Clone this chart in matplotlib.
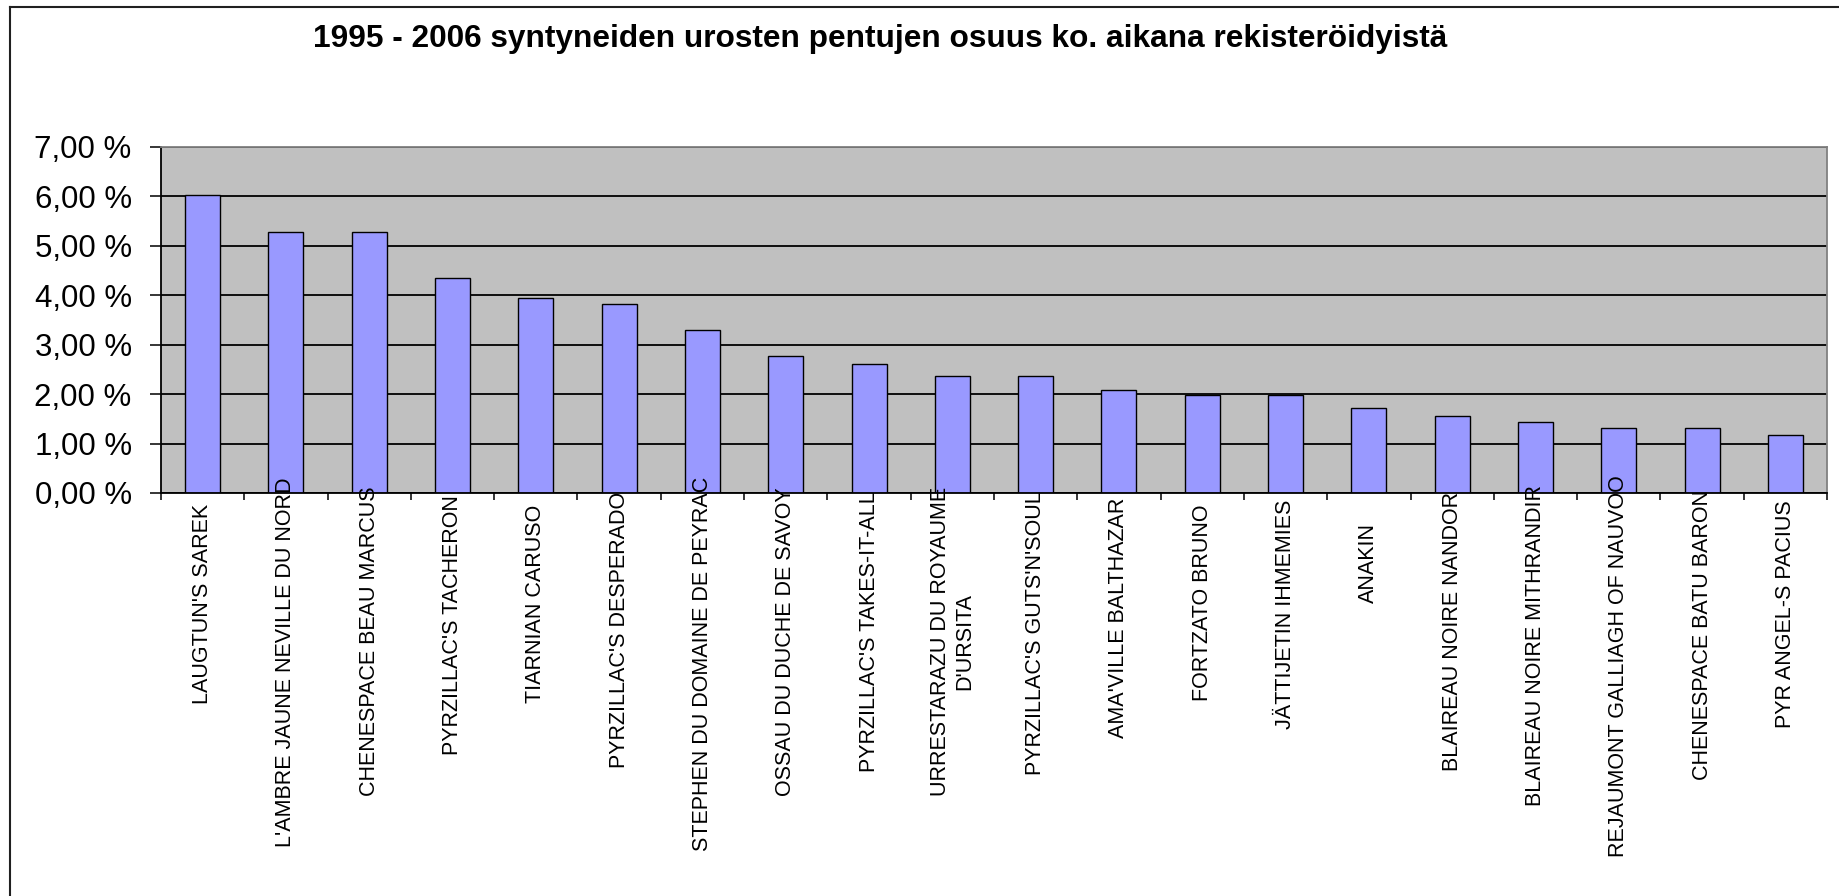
import matplotlib
matplotlib.use('Agg')
import matplotlib.pyplot as plt
from matplotlib.ticker import FuncFormatter, MultipleLocator, FixedLocator
from matplotlib.lines import Line2D

plt.rcParams['font.family'] = ['Liberation Sans', 'DejaVu Sans']

# Data (percent)
names = [
    "LAUGTUN'S SAREK",
    "L'AMBRE JAUNE NEVILLE DU NORD",
    "CHENESPACE BEAU MARCUS",
    "PYRZILLAC'S TACHERON",
    "TIARNIAN CARUSO",
    "PYRZILLAC'S DESPERADO",
    "STEPHEN DU DOMAINE DE PEYRAC",
    "OSSAU DU DUCHE DE SAVOY",
    "PYRZILLAC'S TAKES-IT-ALL",
    "URRESTARAZU DU ROYAUME\nD'URSITA",
    "PYRZILLAC'S GUTS'N'SOUL",
    "AMA'VILLE BALTHAZAR",
    "FORTZATO BRUNO",
    "JÄTTIJETIN IHMEMIES",
    "ANAKIN",
    "BLAIREAU NOIRE NANDOR",
    "BLAIREAU NOIRE MITHRANDIR",
    "REJAUMONT GALLIAGH OF NAUVOO",
    "CHENESPACE BATU BARON",
    "PYR ANGEL-S PACIUS",
]
shares = [6.03, 5.27, 5.27, 4.35, 3.95, 3.83, 3.29, 2.77, 2.61, 2.37,
          2.37, 2.09, 1.98, 1.98, 1.72, 1.56, 1.44, 1.32, 1.32, 1.17]
title = "1995 - 2006 syntyneiden urosten pentujen osuus ko. aikana rekisteröidyistä"

fig = plt.figure(figsize=(18.39, 8.96), dpi=100)
ax = fig.add_axes([0.0875, 0.4498, 0.9935 - 0.0875, 0.8363 - 0.4498])

x = list(range(len(names)))
ax.bar(x, shares, width=0.42, color='#9999FF', edgecolor='black', linewidth=1.0, zorder=2)

ax.set_facecolor('#C0C0C0')
ax.set_xlim(-0.5, len(names) - 0.5)
ax.set_ylim(0, 7)
ax.yaxis.set_major_locator(MultipleLocator(1))
ax.yaxis.set_major_formatter(FuncFormatter(lambda v, p: f"{v:.2f} %".replace('.', ',')))
ax.tick_params(axis='y', direction='out', length=8, width=1.1, pad=13, labelsize=22.5, colors='black')
ax.set_axisbelow(True)
ax.yaxis.grid(True, color='black', linewidth=1.3)

# category boundary ticks on x
ax.set_xticks([])
ax.xaxis.set_minor_locator(FixedLocator([i - 0.5 for i in range(len(names) + 1)]))
ax.tick_params(axis='x', which='minor', direction='out', length=5, width=1.1)

for s in ['top', 'right']:
    ax.spines[s].set_color('#808080')
    ax.spines[s].set_linewidth(1.3)
for s in ['left', 'bottom']:
    ax.spines[s].set_color('black')
    ax.spines[s].set_linewidth(1.3)

# category labels, placed like the original (long labels nudged up)
labels = []
for i, n in enumerate(names):
    t = ax.annotate(n, xy=(i, 0), xycoords=('data', 'axes fraction'),
                    xytext=(0, -31), textcoords='offset points',
                    rotation=90, ha='center', va='top', multialignment='center',
                    fontsize=15.5, annotation_clip=False)
    labels.append(t)

fig.canvas.draw()
r = fig.canvas.get_renderer()
for t in labels:
    L = t.get_window_extent(r).height
    t.xyann = (0, -(43 - 0.159 * L) * 0.72)

fig.text(0.4785, 0.9475, title, ha='center', va='baseline', fontsize=22.8, fontweight='bold')

# outer chart border
fig.add_artist(Line2D([10 / 1839, 10 / 1839], [0, 1 - 7 / 896], transform=fig.transFigure,
                      color='#202020', linewidth=1.5))
fig.add_artist(Line2D([10 / 1839, 1], [1 - 7 / 896, 1 - 7 / 896], transform=fig.transFigure,
                      color='#202020', linewidth=1.5))

fig.savefig('out.png', dpi=100)
